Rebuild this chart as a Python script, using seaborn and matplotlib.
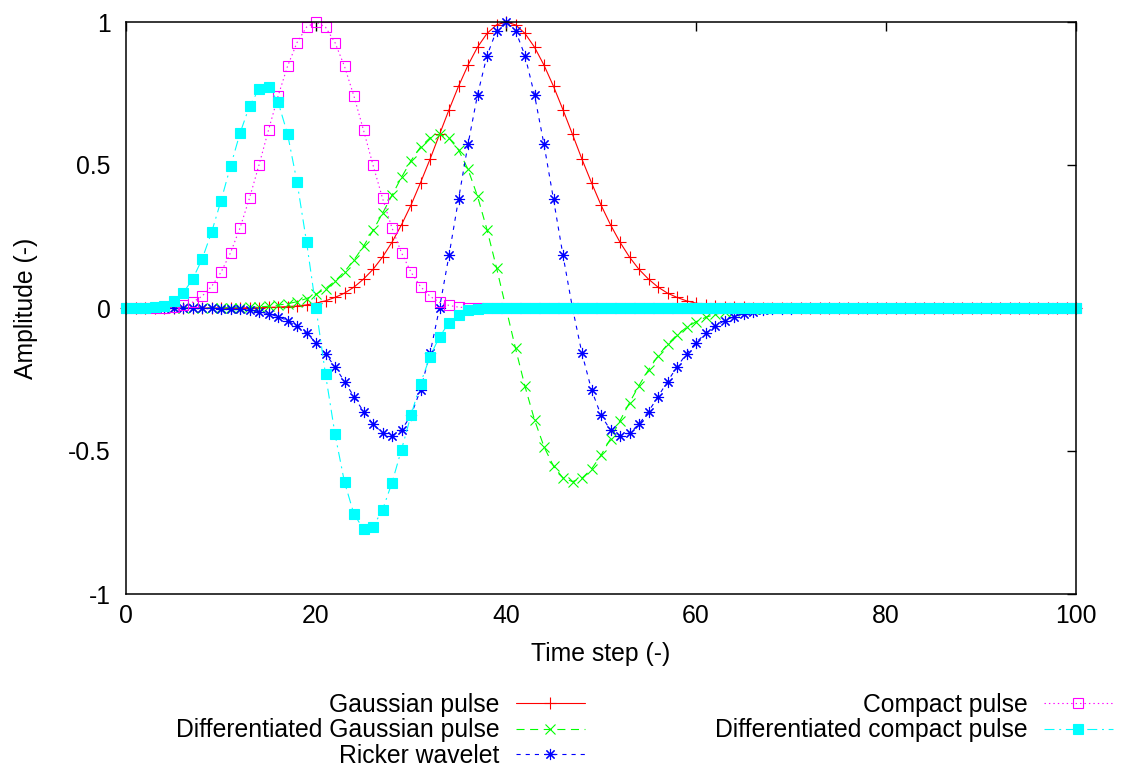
import matplotlib
matplotlib.use("Agg")
import matplotlib.pyplot as plt
import seaborn as sns

# ---------------- data ----------------
time_step = list(range(0, 101))

gaussian_pulse = [
    0, 0, 0, 0, 0, 0, 0, 0, 0, 0,
    0, 0, 0, 0.001, 0.001, 0.002, 0.003, 0.005, 0.007, 0.011,
    0.017, 0.025, 0.037, 0.052, 0.073, 0.101, 0.135, 0.178, 0.230, 0.291,
    0.360, 0.438, 0.520, 0.607, 0.693, 0.775, 0.849, 0.912, 0.960, 0.990,
    1.000, 0.990, 0.960, 0.912, 0.849, 0.775, 0.693, 0.607, 0.520, 0.438,
    0.360, 0.291, 0.230, 0.178, 0.135, 0.101, 0.073, 0.052, 0.037, 0.025,
    0.017, 0.011, 0.007, 0.005, 0.003, 0.002, 0.001, 0.001, 0, 0,
    0, 0, 0, 0, 0, 0, 0, 0, 0, 0,
    0, 0, 0, 0, 0, 0, 0, 0, 0, 0,
    0, 0, 0, 0, 0, 0, 0, 0, 0, 0,
    0,
]

diff_gaussian_pulse = [
    0, 0, 0, 0, 0, 0, 0, 0, 0, 0,
    0, 0.001, 0.001, 0.002, 0.004, 0.006, 0.010, 0.015, 0.022, 0.033,
    0.048, 0.068, 0.094, 0.127, 0.168, 0.216, 0.271, 0.331, 0.394, 0.457,
    0.515, 0.563, 0.595, 0.607, 0.594, 0.553, 0.485, 0.391, 0.274, 0.141,
    0, -0.141, -0.274, -0.391, -0.485, -0.553, -0.594, -0.607, -0.595, -0.563,
    -0.515, -0.457, -0.394, -0.331, -0.271, -0.216, -0.168, -0.127, -0.094, -0.068,
    -0.048, -0.033, -0.022, -0.015, -0.010, -0.006, -0.004, -0.002, -0.001, -0.001,
    0, 0, 0, 0, 0, 0, 0, 0, 0, 0,
    0, 0, 0, 0, 0, 0, 0, 0, 0, 0,
    0, 0, 0, 0, 0, 0, 0, 0, 0, 0,
    0,
]

ricker_wavelet = [
    0, 0, 0, 0, 0, 0, 0, 0, -0.001, -0.001,
    -0.002, -0.003, -0.005, -0.008, -0.013, -0.020, -0.030, -0.044, -0.064, -0.089,
    -0.121, -0.160, -0.206, -0.257, -0.310, -0.362, -0.406, -0.437, -0.446, -0.427,
    -0.375, -0.286, -0.159, 0.000, 0.184, 0.380, 0.572, 0.745, 0.882, 0.970,
    1.000, 0.970, 0.882, 0.745, 0.572, 0.380, 0.184, 0.000, -0.159, -0.286,
    -0.375, -0.427, -0.446, -0.437, -0.406, -0.362, -0.310, -0.257, -0.206, -0.160,
    -0.121, -0.089, -0.064, -0.044, -0.030, -0.020, -0.013, -0.008, -0.005, -0.003,
    -0.002, -0.001, -0.001, 0, 0, 0, 0, 0, 0, 0,
    0, 0, 0, 0, 0, 0, 0, 0, 0, 0,
    0, 0, 0, 0, 0, 0, 0, 0, 0, 0,
    0,
]

compact_pulse = [
    0, 0, 0, 0, 0.001, 0.003, 0.009, 0.020, 0.041, 0.075,
    0.125, 0.193, 0.280, 0.384, 0.500, 0.622, 0.740, 0.845, 0.928, 0.982,
    1.000, 0.982, 0.928, 0.845, 0.740, 0.622, 0.500, 0.384, 0.280, 0.193,
    0.125, 0.075, 0.041, 0.020, 0.009, 0.003, 0.001, 0, 0, 0,
    0, 0, 0, 0, 0, 0, 0, 0, 0, 0,
    0, 0, 0, 0, 0, 0, 0, 0, 0, 0,
    0, 0, 0, 0, 0, 0, 0, 0, 0, 0,
    0, 0, 0, 0, 0, 0, 0, 0, 0, 0,
    0, 0, 0, 0, 0, 0, 0, 0, 0, 0,
    0, 0, 0, 0, 0, 0, 0, 0, 0, 0,
    0,
]

diff_compact_pulse = [
    0, 0, 0, 0.002, 0.008, 0.023, 0.052, 0.100, 0.170, 0.264,
    0.375, 0.495, 0.611, 0.706, 0.765, 0.773, 0.721, 0.609, 0.441, 0.232,
    0, -0.232, -0.441, -0.609, -0.721, -0.773, -0.765, -0.706, -0.611, -0.495,
    -0.375, -0.264, -0.170, -0.100, -0.052, -0.023, -0.008, -0.002, 0, 0,
    0, 0, 0, 0, 0, 0, 0, 0, 0, 0,
    0, 0, 0, 0, 0, 0, 0, 0, 0, 0,
    0, 0, 0, 0, 0, 0, 0, 0, 0, 0,
    0, 0, 0, 0, 0, 0, 0, 0, 0, 0,
    0, 0, 0, 0, 0, 0, 0, 0, 0, 0,
    0, 0, 0, 0, 0, 0, 0, 0, 0, 0,
    0,
]

series_names = [
    "Gaussian pulse",
    "Differentiated Gaussian pulse",
    "Ricker wavelet",
    "Compact pulse",
    "Differentiated compact pulse",
]
x_ticks = [0, 20, 40, 60, 80, 100]
x_tick_labels = ["0", "20", "40", "60", "80", "100"]
y_ticks = [-1, -0.5, 0, 0.5, 1]
y_tick_labels = ["-1", "-0.5", "0", "0.5", "1"]
x_label = "Time step (-)"
y_label = "Amplitude (-)"

# ---------------- style ----------------
sns.set_theme(style="white")
plt.rcParams["font.family"] = ["Liberation Sans", "DejaVu Sans"]
plt.rcParams["lines.scale_dashes"] = False
plt.rcParams["text.color"] = "black"
FS = 17.8

fig = plt.figure(figsize=(11.24, 7.67), dpi=100)
W, H = 1124, 767
ax = fig.add_axes([126 / W, 1 - 594 / H, 950 / W, 572 / H])

series_styles = [
    dict(color="#ff0000", linestyle="-", marker="+", markersize=8,
         markerfacecolor="#ff0000", markeredgecolor="#ff0000"),
    dict(color="#00ff00", linestyle=(0, (5.8, 4.0)), marker="x", markersize=7,
         markerfacecolor="#00ff00", markeredgecolor="#00ff00"),
    dict(color="#0000ff", linestyle=(0, (3.0, 3.6)), marker=(8, 2, 0), markersize=8,
         markerfacecolor="#0000ff", markeredgecolor="#0000ff"),
    dict(color="#ff00ff", linestyle=(0, (1.0, 2.2)), marker="s", markersize=7.8,
         markerfacecolor="none", markeredgecolor="#ff00ff"),
    dict(color="#00ffff", linestyle=(0, (7.2, 3.4, 1.4, 3.4)), marker="s", markersize=7,
         markerfacecolor="#00ffff", markeredgecolor="#00ffff"),
]
all_series = [gaussian_pulse, diff_gaussian_pulse, ricker_wavelet,
              compact_pulse, diff_compact_pulse]

for name, values, st in zip(series_names, all_series, series_styles):
    sns.lineplot(x=time_step, y=values, ax=ax, label=name, errorbar=None,
                 linewidth=0.8, markeredgewidth=0.8, clip_on=False, **st)

if ax.get_legend() is not None:
    ax.get_legend().remove()

ax.set_xlim(0, 100)
ax.set_ylim(-1, 1)
ax.set_xticks(x_ticks)
ax.set_xticklabels(x_tick_labels)
ax.set_yticks(y_ticks)
ax.set_yticklabels(y_tick_labels)

for sp in ax.spines.values():
    sp.set_visible(True)
    sp.set_color("black")
    sp.set_linewidth(1.1)

ax.tick_params(axis="both", direction="in", length=6.5, width=1.0, color="black",
               top=True, right=True, labelsize=FS, labelcolor="black")
ax.tick_params(axis="x", pad=7.5)
ax.tick_params(axis="y", pad=11)

ax.set_xlabel(x_label, fontsize=FS, color="black")
ax.set_ylabel(y_label, fontsize=FS, color="black")
ax.xaxis.set_label_coords(0.5, -0.084)
ax.yaxis.set_label_coords(-0.0926, 0.5)

handles = ax.get_lines()[:5]
leg_kw = dict(loc="upper right", frameon=False, markerfirst=False, fontsize=FS,
              handlelength=2.8, handletextpad=0.65, labelspacing=0.06,
              borderpad=0, borderaxespad=0, labelcolor="black")
fig.legend(handles[:3], series_names[:3], bbox_to_anchor=(585 / W, 1 - 693 / H), **leg_kw)
fig.legend(handles[3:], series_names[3:], bbox_to_anchor=(1113 / W, 1 - 693 / H), **leg_kw)

fig.savefig("out.png", dpi=100)
